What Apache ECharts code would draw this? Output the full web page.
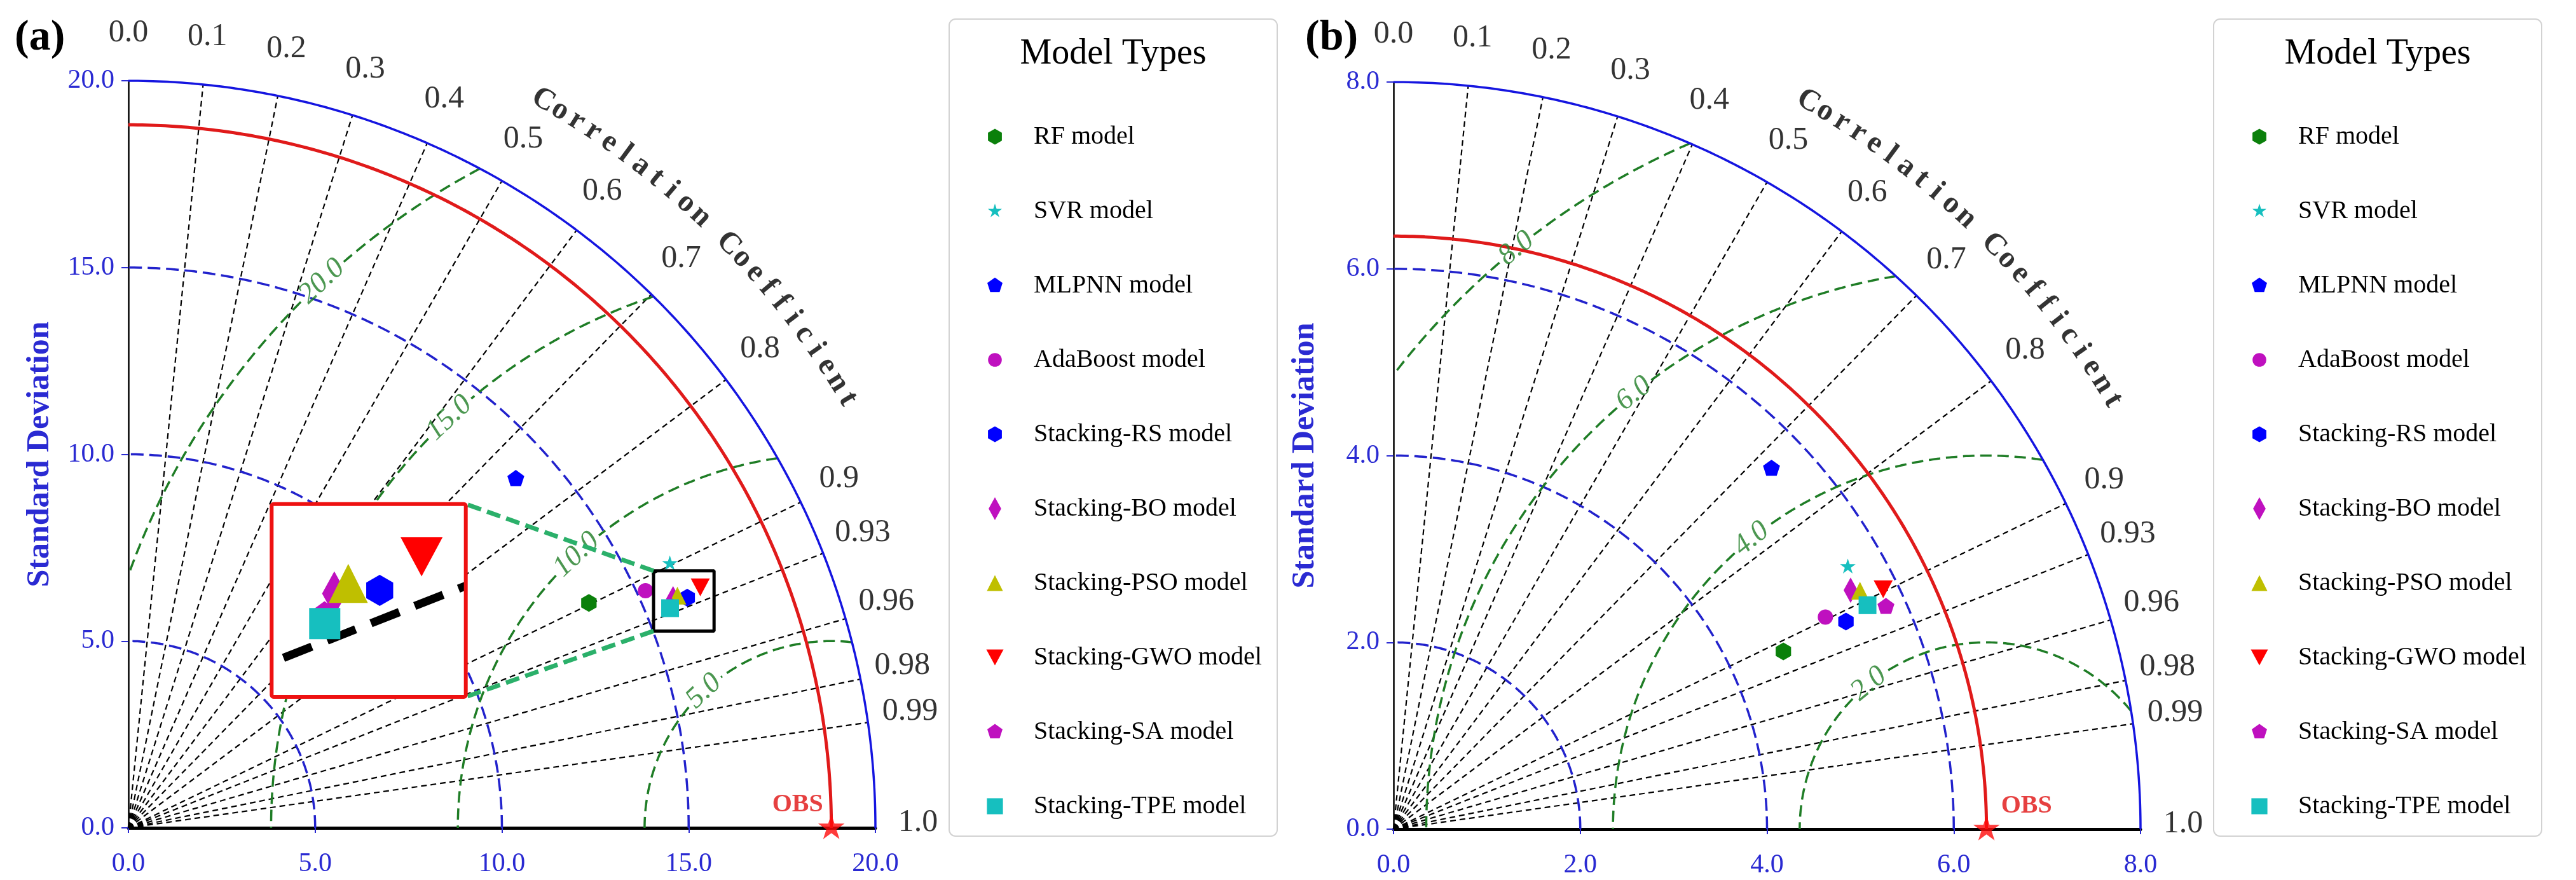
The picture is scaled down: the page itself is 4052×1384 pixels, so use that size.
<!DOCTYPE html>
<html><head><meta charset="utf-8">
<script src="https://cdn.jsdelivr.net/npm/echarts@6/dist/echarts.min.js"></script>
<style>html,body{margin:0;padding:0;background:#fff}#c{width:4052px;height:1384px}</style>
</head><body><div id="c"></div>
<script>
// ---------------- data ----------------
const models = ['RF model','SVR model','MLPNN model','AdaBoost model','Stacking-RS model','Stacking-BO model','Stacking-PSO model','Stacking-GWO model','Stacking-SA model','Stacking-TPE model'];
// panel (a): standard deviation and correlation of each model
const stdA  = [13.72, 16.13, 13.96, 15.23, 16.18, 15.82, 15.96, 16.61, 15.67, 15.65];
const corrA = [0.8986, 0.8987, 0.743, 0.909, 0.9247, 0.9218, 0.9210, 0.9218, 0.9254, 0.9267];
const obsA = 18.82;
// panel (b)
const stdB  = [4.588, 5.618, 5.594, 5.152, 5.331, 5.523, 5.610, 5.839, 5.786, 5.614];
const corrB = [0.910, 0.866, 0.7236, 0.8977, 0.9089, 0.8863, 0.8904, 0.8981, 0.9114, 0.9042];
const obsB = 6.35;
// axes / grid values
const stdMaxA = 20, stdStepA = 5, stdGridA = [5, 10, 15], rmsA = [5, 10, 15, 20];
const stdMaxB = 8,  stdStepB = 2, stdGridB = [2, 4, 6],   rmsB = [2, 4, 6, 8];
const corrLines = [0.1,0.2,0.3,0.4,0.5,0.6,0.7,0.8,0.9,0.93,0.96,0.98,0.99];
const corrTicks = [0.0,0.1,0.2,0.3,0.4,0.5,0.6,0.7,0.8,0.9,0.93,0.96,0.98,0.99,1.0];
const corrTickLabels = ['0.0','0.1','0.2','0.3','0.4','0.5','0.6','0.7','0.8','0.9','0.93','0.96','0.98','0.99','1.0'];
const insetCorr = 0.93;
const insetXRange = [14.06, 15.68];
const insetYRange = [5.27, 6.88];

// ---------------- styles ----------------
const SERIF = "'Liberation Serif','Times New Roman',serif";
const BLUE_TXT = '#2a2ad2';
const GREEN = '#1f7d26';
const FR = 'M-20 -20 M20 20 ';
function poly(pts){ return 'path://' + FR + 'M' + pts.map(p => p[0].toFixed(2) + ' ' + p[1].toFixed(2)).join(' L') + ' Z'; }
function regular(n, R, rot){ const a=[]; for(let k=0;k<n;k++){const t=(rot+360*k/n)*Math.PI/180; a.push([R*Math.cos(t), R*Math.sin(t)]);} return a; }
function starPts(R, r){ const a=[]; for(let k=0;k<10;k++){const t=(-90+36*k)*Math.PI/180; const rr=k%2?r:R; a.push([rr*Math.cos(t), rr*Math.sin(t)]);} return a; }
const SH = {
  hexagon: poly(regular(6, 14, -90)),
  star: poly(starPts(13, 13*0.382)),
  pentagon: poly(regular(5, 14, -90)),
  circle: 'path://' + FR + 'M-12 0 A12 12 0 1 1 12 0 A12 12 0 1 1 -12 0 Z',
  thinDiamond: poly([[0,-20],[11,0],[0,20],[-11,0]]),
  triUp: poly([[0,-14],[14,14],[-14,14]]),
  triDown: poly([[-15,-14],[15,-14],[0,14]]),
  square: poly([[-14,-14],[14,-14],[14,14],[-14,14]]),
  obsStar: poly(starPts(19, 19*0.382))
};
const sty = [
  {path: SH.hexagon, color: '#0b800b', inset: 1.75},
  {path: SH.star, color: '#16bfbf', inset: 1.75},
  {path: SH.pentagon, color: '#0000ff', inset: 1.75},
  {path: SH.circle, color: '#bf10bf', inset: 1.75},
  {path: SH.hexagon, color: '#0000ff', inset: 1.75},
  {path: SH.thinDiamond, color: '#bf10bf', inset: 1.75},
  {path: SH.triUp, color: '#bfbf00', inset: 2.2},
  {path: SH.triDown, color: '#ff0000', inset: 2.2},
  {path: SH.pentagon, color: '#bf10bf', inset: 1.75},
  {path: SH.square, color: '#16bfbf', inset: 1.75}
];

const panels = [
  {tag:'(a)', tagLeft: 23, std: stdA, corr: corrA, obs: obsA, max: stdMaxA, step: stdStepA, stdGrid: stdGridA, rms: rmsA,
   left: 202, top: 127, size: 1175, rmsAngle: 133, obsSide: 'left', legendLeft: 1493},
  {tag:'(b)', tagLeft: 2053, std: stdB, corr: corrB, obs: obsB, max: stdMaxB, step: stdStepB, stdGrid: stdGridB, rms: rmsB,
   left: 2192, top: 129, size: 1175, rmsAngle: 129, obsSide: 'right', legendLeft: 3482}
];
// inset frame in panel-(a) data units
const insetFrame = {x0: 3.835, x1: 9.033, y0: 3.506, y1: 8.669};

const BR = ['-','-'];
function arcPts(cx, cy, r, a0, a1, n){ const p=[]; for(let k=0;k<=n;k++){const t=(a0+(a1-a0)*k/n)*Math.PI/180; p.push([cx+r*Math.cos(t), cy+r*Math.sin(t)]);} return p; }
const D = 180/Math.PI;

const grids=[], xAxes=[], yAxes=[], series=[], titles=[], legends=[], graphics=[];

panels.forEach((p, i) => {
  const R = p.max, pxU = p.size / R;
  grids.push({left: p.left, top: p.top, width: p.size, height: p.size, show: false});
  xAxes.push({gridIndex: i, type: 'value', min: 0, max: R, interval: p.step,
    axisLine: {show: true, onZero: false, lineStyle: {color: '#000', width: 5}},
    axisTick: {show: true, length: 8, lineStyle: {color: BLUE_TXT, width: 2}},
    axisLabel: {color: BLUE_TXT, fontSize: 42, fontFamily: SERIF, margin: 36, formatter: v => v.toFixed(1)},
    splitLine: {show: false}});
  yAxes.push({gridIndex: i, type: 'value', min: 0, max: R, interval: p.step,
    name: 'Standard Deviation', nameLocation: 'middle', nameRotate: 90, nameGap: 114,
    nameTextStyle: {color: BLUE_TXT, fontSize: 50, fontWeight: 'bold', fontFamily: SERIF},
    axisLine: {show: true, onZero: false, lineStyle: {color: '#000', width: 2.5}},
    axisTick: {show: true, length: 11, lineStyle: {color: BLUE_TXT, width: 2}},
    axisLabel: {color: BLUE_TXT, fontSize: 42, fontFamily: SERIF, margin: 22, formatter: v => v.toFixed(1)},
    splitLine: {show: false}});
  const base = {type: 'line', xAxisIndex: i, yAxisIndex: i, symbol: 'none', showSymbol: false, silent: true, animation: false};

  // correlation radial lines
  let d = [];
  corrLines.forEach(c => { const t = Math.acos(c); d.push([0,0], [R*Math.cos(t), R*Math.sin(t)], BR); });
  series.push(Object.assign({}, base, {data: d, z: 2, lineStyle: {color: '#000', width: 2.2, type: [9, 6]}}));
  // std dashed arcs
  d = [];
  p.stdGrid.forEach(s => { d = d.concat(arcPts(0, 0, s, 0, 90, 160)); d.push(BR); });
  series.push(Object.assign({}, base, {data: d, z: 3, lineStyle: {color: '#2222cc', width: 3.5, type: [20, 9]}}));
  // RMSD contours with gaps at the labels
  d = [];
  const rmsLabels = [];
  p.rms.forEach(k => {
    let a0 = 0, a1 = 180;
    if (p.obs + k > R) { const xi = (R*R - k*k + p.obs*p.obs) / (2*p.obs); const yi = Math.sqrt(R*R - xi*xi); a0 = Math.atan2(yi, xi - p.obs) * D; }
    if (p.obs - k < 0) a1 = Math.acos(-p.obs / k) * D;
    const txt = k.toFixed(1);
    const em = (txt.length - 2) * 0.5 + 0.75;
    const half = (em * 46 / 2 + 6) / (k * pxU) * D;
    const la = p.rmsAngle;
    if (la - half > a0 && la + half < a1) {
      d = d.concat(arcPts(p.obs, 0, k, a0, la - half, 120)); d.push(BR);
      d = d.concat(arcPts(p.obs, 0, k, la + half, a1, 120)); d.push(BR);
      const t = la / D;
      rmsLabels.push({name: txt, value: [p.obs + k*Math.cos(t), k*Math.sin(t)], label: {rotate: la - 90}});
    } else {
      d = d.concat(arcPts(p.obs, 0, k, a0, a1, 200)); d.push(BR);
    }
  });
  series.push(Object.assign({}, base, {data: d, z: 3, lineStyle: {color: GREEN, width: 3.5, type: [18, 9]}}));
  series.push({type: 'scatter', xAxisIndex: i, yAxisIndex: i, silent: true, clip: false, symbol: 'circle', symbolSize: 1,
    itemStyle: {color: 'rgba(0,0,0,0)'}, z: 4, data: rmsLabels,
    label: {show: true, position: 'inside', formatter: '{b}', color: GREEN, fontSize: 46, fontStyle: 'italic', fontFamily: SERIF}});
  // outer arc
  series.push(Object.assign({}, base, {data: arcPts(0, 0, R, 0, 90, 240), z: 4, lineStyle: {color: '#1515e0', width: 3.5}}));
  // observed std arc
  series.push(Object.assign({}, base, {data: arcPts(0, 0, p.obs, 0, 90, 240), z: 4, lineStyle: {color: '#e01a1a', width: 5}}));

  // correlation tick labels
  const cl = corrTicks.map((c, j) => { const t = Math.acos(c), r = 1.057 * R; return {name: corrTickLabels[j], value: [r*Math.cos(t), r*Math.sin(t)]}; });
  series.push({type: 'scatter', xAxisIndex: i, yAxisIndex: i, silent: true, clip: false, symbol: 'circle', symbolSize: 1,
    itemStyle: {color: 'rgba(0,0,0,0)'}, z: 4, data: cl,
    label: {show: true, position: 'inside', formatter: '{b}', color: '#000', fontSize: 50, fontFamily: SERIF, offset: [0, -8]}});
  // "Correlation Coefficient" along the arc
  const cc = 'Correlation Coefficient', aS = 60.3, aE = 30.8, letters = [];
  for (let j = 0; j < cc.length; j++) {
    if (cc[j] === ' ') continue;
    const a = aS + (aE - aS) * j / (cc.length - 1), t = a / D, r = 1.121 * R;
    letters.push({name: cc[j], value: [r*Math.cos(t), r*Math.sin(t)], label: {rotate: a - 90}});
  }
  series.push({type: 'scatter', xAxisIndex: i, yAxisIndex: i, silent: true, clip: false, symbol: 'circle', symbolSize: 1,
    itemStyle: {color: 'rgba(0,0,0,0)'}, z: 4, data: letters,
    label: {show: true, position: 'inside', formatter: '{b}', color: '#000', fontSize: 48, fontWeight: 'bold', fontFamily: SERIF}});

  // models
  models.forEach((m, j) => {
    const s = p.std[j], c = p.corr[j];
    series.push({type: 'scatter', name: m, xAxisIndex: i, yAxisIndex: i, clip: false, symbol: sty[j].path, symbolSize: 40,
      itemStyle: {color: sty[j].color, opacity: 1}, z: 6, data: [[s*c, s*Math.sqrt(1 - c*c)]]});
  });
  // OBS
  series.push({type: 'scatter', xAxisIndex: i, yAxisIndex: i, clip: false, silent: true, symbol: SH.obsStar, symbolSize: 46,
    itemStyle: {color: '#ff0a0a'}, z: 8, data: [[p.obs, 0]],
    label: {show: true, formatter: 'OBS', position: p.obsSide, distance: 0, offset: [p.obsSide === 'left' ? 10 : 0, -36],
      color: '#e01010', fontSize: 40, fontWeight: 'bold', fontFamily: SERIF}});

  titles.push({text: p.tag, left: p.tagLeft, top: 26, padding: 0, textStyle: {fontSize: 68, fontWeight: 'bold', fontFamily: SERIF, color: '#000'}});
  titles.push({text: 'Model Types', left: p.legendLeft + 258, textAlign: 'center', top: 57, padding: 0, textStyle: {fontSize: 56, fontWeight: 'normal', fontFamily: SERIF, color: '#000'}});
  graphics.push({type: 'rect', shape: {x: p.legendLeft, y: 30, width: 516, height: 1285, r: 10}, style: {fill: '#fff', stroke: '#d2d2d2', lineWidth: 2}, z: -1});
  legends.push({orient: 'vertical', left: p.legendLeft + 54, top: 195, padding: 0, itemWidth: 36, itemHeight: 36, itemGap: 77,
    symbolKeepAspect: true, selectedMode: false,
    formatter: '{s|}{t|{name}}',
    textStyle: {fontSize: 40, fontFamily: SERIF, color: '#000', lineHeight: 36,
      rich: {s: {width: 38, lineHeight: 36}, t: {fontSize: 40, fontFamily: SERIF, color: '#000', lineHeight: 36}}},
    data: models.map((m, j) => ({name: m, icon: sty[j].path}))});
});

// ---------------- inset for panel (a) ----------------
const pa = panels[0], pxA = pa.size / pa.max;
const insetPx = {left: pa.left + insetFrame.x0 * pxA, top: pa.top + pa.size - insetFrame.y1 * pxA,
  width: (insetFrame.x1 - insetFrame.x0) * pxA, height: (insetFrame.y1 - insetFrame.y0) * pxA};
grids.push({left: insetPx.left, top: insetPx.top, width: insetPx.width, height: insetPx.height, show: false});
xAxes.push({gridIndex: 2, type: 'value', min: insetXRange[0], max: insetXRange[1], show: false, splitLine: {show: false}});
yAxes.push({gridIndex: 2, type: 'value', min: insetYRange[0], max: insetYRange[1], show: false, splitLine: {show: false}});
graphics.push({type: 'rect', shape: {x: insetPx.left, y: insetPx.top, width: insetPx.width, height: insetPx.height}, style: {fill: '#fff'}, z: 10});
graphics.push({type: 'rect', shape: {x: insetPx.left, y: insetPx.top, width: insetPx.width, height: insetPx.height, r: 3}, style: {fill: 'none', stroke: '#ee1111', lineWidth: 6}, z: 30});
{
  // 0.93 correlation line, segment inside the inset range
  const tn = Math.tan(Math.acos(insetCorr));
  const xs = Math.max(insetXRange[0], insetYRange[0] / tn), xe = Math.min(insetXRange[1], insetYRange[1] / tn);
  series.push({type: 'line', xAxisIndex: 2, yAxisIndex: 2, symbol: 'none', silent: true, z: 15, clip: false,
    data: [[xs, xs*tn], [xe, xe*tn]], lineStyle: {color: '#000', width: 13, type: [48, 26], dashOffset: 54}});
  models.forEach((m, j) => {
    const s = pa.std[j], c = pa.corr[j], x = s*c, y = s*Math.sqrt(1 - c*c);
    if (x < insetXRange[0] || x > insetXRange[1] || y < insetYRange[0] || y > insetYRange[1]) return;
    series.push({type: 'scatter', name: m, xAxisIndex: 2, yAxisIndex: 2, symbol: sty[j].path, symbolSize: 40 * sty[j].inset,
      itemStyle: {color: sty[j].color, opacity: 1}, z: 20, data: [[x, y]]});
  });
  // zoom box and connectors in panel (a)
  const bx = [[insetXRange[0], insetYRange[0]], [insetXRange[1], insetYRange[0]], [insetXRange[1], insetYRange[1]], [insetXRange[0], insetYRange[1]], [insetXRange[0], insetYRange[0]]];
  series.push({type: 'line', xAxisIndex: 0, yAxisIndex: 0, symbol: 'none', silent: true, z: 7, data: bx, lineStyle: {color: '#000', width: 5}});
  series.push({type: 'line', xAxisIndex: 0, yAxisIndex: 0, symbol: 'none', silent: true, z: 25, clip: false,
    data: [[insetXRange[0], insetYRange[1]], [insetFrame.x1, insetFrame.y1], BR, [insetXRange[0], insetYRange[0]], [insetFrame.x1, insetFrame.y0]],
    lineStyle: {color: '#2bb06a', width: 7, type: [22, 10]}});
}

const chart = echarts.init(document.getElementById('c'), null, {renderer: 'canvas', width: 4052, height: 1384});
chart.setOption({
  animation: false,
  backgroundColor: '#fff',
  textStyle: {fontFamily: SERIF},
  title: titles,
  legend: legends,
  grid: grids,
  xAxis: xAxes,
  yAxis: yAxes,
  graphic: graphics,
  series: series
});
</script>
</body></html>
